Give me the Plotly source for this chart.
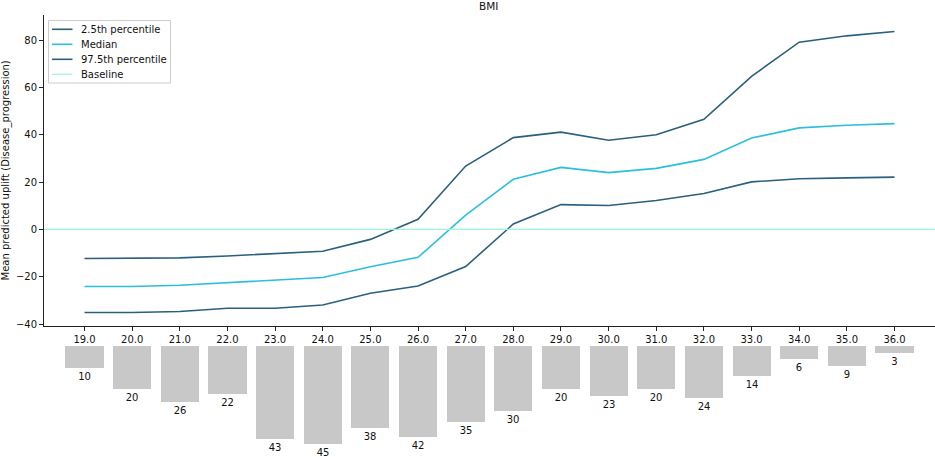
import plotly.graph_objects as go

# BMI bins
bmi = [19.0, 20.0, 21.0, 22.0, 23.0, 24.0, 25.0, 26.0, 27.0,
       28.0, 29.0, 30.0, 31.0, 32.0, 33.0, 34.0, 35.0, 36.0]

# mean predicted uplift
p_low = [-35.1, -35.1, -34.7, -33.3, -33.3, -31.9, -27.0, -23.9, -15.7,
         2.3, 10.5, 10.1, 12.2, 15.2, 20.1, 21.4, 21.8, 22.1]
median = [-24.1, -24.1, -23.6, -22.4, -21.5, -20.3, -15.8, -11.8, 6.0,
          21.2, 26.2, 24.0, 25.8, 29.6, 38.6, 42.9, 44.0, 44.7]
p_high = [-12.3, -12.3, -12.0, -11.2, -10.2, -9.2, -4.2, 4.3, 26.8,
          38.8, 41.1, 37.7, 40.0, 46.5, 64.7, 79.1, 81.8, 83.6]

# number of samples per bin
counts = [10, 20, 26, 22, 43, 45, 38, 42, 35, 30, 20, 23, 20, 24, 14, 6, 9, 3]

legend_names = ["2.5th percentile", "Median", "97.5th percentile", "Baseline"]

DARK = "#2a5f80"
LIGHT = "#2bbfdc"
BASE = "#9ef5d2"
FONT = "DejaVu Sans"

# plot area in pixels: 44..935 x 15..457
PW, PH = 891, 442


def px(x):
    return (x - 44) / PW


def py(y):
    return 1 - (y - 15) / PH


fig = go.Figure()

line_colors = [DARK, LIGHT, DARK, BASE]
fig.add_trace(go.Scatter(x=bmi, y=p_low, mode="lines", name=legend_names[0],
                         line=dict(color=DARK, width=1.6)))
fig.add_trace(go.Scatter(x=bmi, y=median, mode="lines", name=legend_names[1],
                         line=dict(color=LIGHT, width=1.6)))
fig.add_trace(go.Scatter(x=bmi, y=p_high, mode="lines", name=legend_names[2],
                         line=dict(color=DARK, width=1.6)))
fig.add_hline(y=0, line=dict(color=BASE, width=1.2))

fig.add_trace(go.Bar(x=bmi, y=counts, xaxis="x2", yaxis="y2", width=0.8,
                     marker=dict(color="#c8c8c8", line=dict(width=0)),
                     text=[str(c) for c in counts], textposition="outside",
                     textfont=dict(size=10, color="#111111"),
                     cliponaxis=False))

# matplotlib-style compact legend box
fig.add_shape(type="rect", xref="paper", yref="paper",
              x0=px(48.5), x1=px(170.5), y0=py(83), y1=py(20.5),
              line=dict(color="#cccccc", width=1), fillcolor="rgba(255,255,255,0.8)")
for i, (name, col) in enumerate(zip(legend_names, line_colors)):
    yy = py(29.3 + 15 * i)
    fig.add_shape(type="line", xref="paper", yref="paper",
                  x0=px(52), x1=px(72.5), y0=yy, y1=yy,
                  line=dict(color=col, width=1.6 if i < 3 else 1.2))
    fig.add_annotation(xref="paper", yref="paper", x=px(79), y=yy,
                       xanchor="left", yanchor="middle", text=name, showarrow=False,
                       font=dict(size=10, family=FONT, color="#111111"))

# title and y-axis label placed like the matplotlib original
fig.add_annotation(xref="paper", yref="paper", x=px(488), y=py(5.7),
                   xanchor="center", yanchor="middle", text="BMI", showarrow=False,
                   font=dict(size=10.5, family=FONT, color="#111111"))
fig.add_annotation(xref="paper", yref="paper", x=px(5), y=py(170.5),
                   xanchor="center", yanchor="middle", textangle=-90,
                   text="Mean predicted uplift (Disease_progression)", showarrow=False,
                   font=dict(size=10, family=FONT, color="#111111"))

fig.update_layout(
    width=935, height=457,
    margin=dict(l=44, r=0, t=15, b=0, pad=0, autoexpand=False),
    plot_bgcolor="white", paper_bgcolor="white",
    font=dict(family=FONT, size=10, color="#111111"),
    showlegend=False,
    xaxis=dict(range=[18.15, 36.85], domain=[0, 1], anchor="y", automargin=False,
               tickvals=bmi, ticktext=[f"{v:.1f}" for v in bmi],
               showline=True, linecolor="#222222", linewidth=1,
               ticks="outside", ticklen=4, tickcolor="#222222",
               showgrid=False, zeroline=False),
    yaxis=dict(range=[-40.8, 90.6], domain=[0.2964, 1], anchor="x", automargin=False,
               tickvals=[-40, -20, 0, 20, 40, 60, 80],
               showline=True, linecolor="#222222", linewidth=1,
               ticks="outside", ticklen=4, tickcolor="#222222",
               showgrid=False, zeroline=False),
    xaxis2=dict(range=[18.15, 36.85], domain=[0, 1], anchor="y2",
                visible=False, automargin=False),
    yaxis2=dict(range=[51.2, 0], domain=[0, 0.2511], anchor="x2",
                visible=False, automargin=False),
    bargap=0,
)

# drop the default 8px page margin so the figure fills the window exactly
fig.write_html("out.html", config={"displayModeBar": False},
               post_script="document.body.style.margin = '0';")
